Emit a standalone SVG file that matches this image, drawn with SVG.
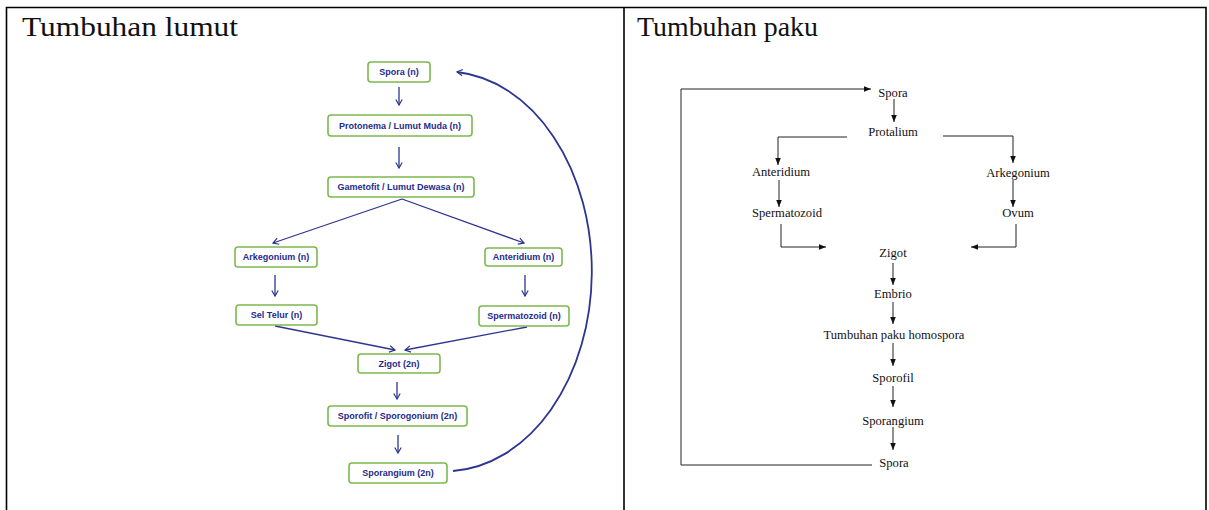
<svg xmlns="http://www.w3.org/2000/svg" width="1209" height="510" viewBox="0 0 1209 510">
<defs>
<marker id="ahb" markerWidth="10" markerHeight="10" refX="8" refY="5" orient="auto" markerUnits="userSpaceOnUse"><path d="M2.5,1.8 L8,5 L2.5,8.2" fill="none" stroke="#2c3590" stroke-width="1.2"/></marker>
<marker id="ahk" markerWidth="8" markerHeight="8" refX="7" refY="4" orient="auto" markerUnits="userSpaceOnUse"><path d="M0,1.2 L7,4 L0,6.8 Z" fill="#111"/></marker>
</defs>
<style>
.frame{fill:none;stroke:#000;stroke-width:1.6}
.title{font-family:"Liberation Serif",serif;font-size:28px;fill:#111}
.box rect{fill:#fff;stroke:#7cb84f;stroke-width:1.6}
.box text{font-family:"Liberation Sans",Arial,sans-serif;font-weight:bold;font-size:9px;fill:#262a8c;text-anchor:middle}
.bl{fill:none;stroke:#2c3590;stroke-width:1.3}
.curve{fill:none;stroke:#2c3590;stroke-width:1.8}
.kl{fill:none;stroke:#222;stroke-width:1}
.pt text{font-family:"Liberation Serif",serif;font-size:12.6px;fill:#111;text-anchor:middle}
</style>
<rect width="1209" height="510" fill="#fff"/>
<g id="table">
<path class="frame" d="M6.5,510 V7.5 H1206 V510 M624,7.5 V510"/>
<text class="title" x="22" y="36" textLength="216" lengthAdjust="spacingAndGlyphs">Tumbuhan lumut</text>
<text class="title" x="637" y="36" textLength="181" lengthAdjust="spacingAndGlyphs">Tumbuhan paku</text>
</g>
<g id="lumut-connectors">
<path class="bl" d="M399,87 V105" marker-end="url(#ahb)"/>
<path class="bl" d="M399,147 V168" marker-end="url(#ahb)"/>
<path class="bl" d="M402,199 L273,243" marker-end="url(#ahb)"/>
<path class="bl" d="M402,199 L524,243" marker-end="url(#ahb)"/>
<path class="bl" d="M275,275 V296" marker-end="url(#ahb)"/>
<path class="bl" d="M525,275 V296" marker-end="url(#ahb)"/>
<path class="bl" d="M275,326 L395,350" marker-end="url(#ahb)"/>
<path class="bl" d="M527,327 L405,350" marker-end="url(#ahb)"/>
<path class="bl" d="M397,382 V399" marker-end="url(#ahb)"/>
<path class="bl" d="M398,435 V453" marker-end="url(#ahb)"/>
<path class="curve" d="M453,471 A147,200 0 0 0 457,72" marker-end="url(#ahb)"/>
</g>
<g id="l-spora" class="box"><rect x="368" y="62" width="62" height="20" rx="3"/><text x="399" y="75.2">Spora (n)</text></g>
<g id="l-protonema" class="box"><rect x="328" y="115" width="144" height="21" rx="3"/><text x="400" y="128.7">Protonema / Lumut Muda (n)</text></g>
<g id="l-gametofit" class="box"><rect x="328" y="177" width="146" height="20" rx="3"/><text x="401" y="190.2">Gametofit / Lumut Dewasa (n)</text></g>
<g id="l-arkegonium" class="box"><rect x="235" y="247" width="82" height="20" rx="3"/><text x="276" y="260.2">Arkegonium (n)</text></g>
<g id="l-anteridium" class="box"><rect x="485" y="248" width="77" height="18" rx="3"/><text x="523.5" y="260.2">Anteridium (n)</text></g>
<g id="l-seltelur" class="box"><rect x="236" y="305" width="81" height="20" rx="3"/><text x="276.5" y="318.2">Sel Telur (n)</text></g>
<g id="l-spermatozoid" class="box"><rect x="479" y="306" width="90" height="20" rx="3"/><text x="524" y="319.2">Spermatozoid (n)</text></g>
<g id="l-zigot" class="box"><rect x="358" y="354" width="82" height="19" rx="3"/><text x="399" y="366.7">Zigot (2n)</text></g>
<g id="l-sporofit" class="box"><rect x="328" y="406" width="139" height="20" rx="3"/><text x="397.5" y="419.2">Sporofit / Sporogonium (2n)</text></g>
<g id="l-sporangium" class="box"><rect x="349" y="463" width="98" height="20" rx="3"/><text x="398" y="476.2">Sporangium (2n)</text></g>
<g id="paku-connectors">
<path class="kl" d="M872,465 H681 V89 H871" marker-end="url(#ahk)"/>
<path class="kl" d="M894,99 V122" marker-end="url(#ahk)"/>
<path class="kl" d="M847,137 H778 V165" marker-end="url(#ahk)"/>
<path class="kl" d="M943,136 H1013 V163" marker-end="url(#ahk)"/>
<path class="kl" d="M779,180 V207" marker-end="url(#ahk)"/>
<path class="kl" d="M1013,180 V207" marker-end="url(#ahk)"/>
<path class="kl" d="M781,224 V247 H826" marker-end="url(#ahk)"/>
<path class="kl" d="M1016,224 V247 H971" marker-end="url(#ahk)"/>
<path class="kl" d="M893,263 V285" marker-end="url(#ahk)"/>
<path class="kl" d="M893,302 V324" marker-end="url(#ahk)"/>
<path class="kl" d="M893,343 V366" marker-end="url(#ahk)"/>
<path class="kl" d="M893,386 V407" marker-end="url(#ahk)"/>
<path class="kl" d="M893,427 V450" marker-end="url(#ahk)"/>
</g>
<g id="p-spora" class="pt"><text x="893" y="97">Spora</text></g>
<g id="p-protalium" class="pt"><text x="893" y="136">Protalium</text></g>
<g id="p-anteridium" class="pt"><text x="781" y="176">Anteridium</text></g>
<g id="p-arkegonium" class="pt"><text x="1018" y="177">Arkegonium</text></g>
<g id="p-spermatozoid" class="pt"><text x="787" y="217">Spermatozoid</text></g>
<g id="p-ovum" class="pt"><text x="1018" y="217">Ovum</text></g>
<g id="p-zigot" class="pt"><text x="893" y="257">Zigot</text></g>
<g id="p-embrio" class="pt"><text x="893" y="298">Embrio</text></g>
<g id="p-homospora" class="pt"><text x="894" y="339">Tumbuhan paku homospora</text></g>
<g id="p-sporofil" class="pt"><text x="893" y="382">Sporofil</text></g>
<g id="p-sporangium" class="pt"><text x="893" y="425">Sporangium</text></g>
<g id="p-spora2" class="pt"><text x="894" y="467">Spora</text></g>
</svg>
